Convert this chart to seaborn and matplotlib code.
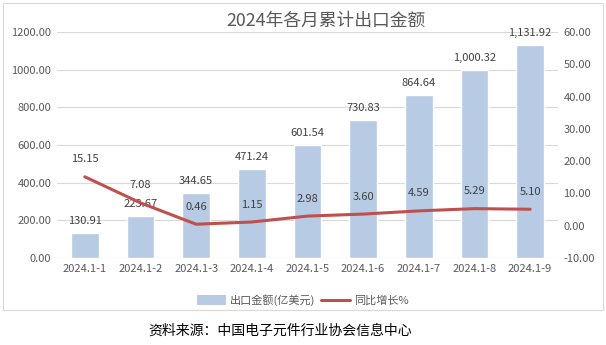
import numpy as np
import pandas as pd
import matplotlib
matplotlib.use("Agg")
import matplotlib.pyplot as plt
import seaborn as sns
from matplotlib.patches import Rectangle
from matplotlib.lines import Line2D
from matplotlib.patches import Patch

categories = ["2024.1-1", "2024.1-2", "2024.1-3", "2024.1-4", "2024.1-5",
              "2024.1-6", "2024.1-7", "2024.1-8", "2024.1-9"]
export_value = [130.91, 223.67, 344.65, 471.24, 601.54, 730.83, 864.64, 1000.32, 1131.92]
yoy_growth = [15.15, 7.08, 0.46, 1.15, 2.98, 3.60, 4.59, 5.29, 5.10]
bar_label_text = ["130.91", "223.67", "344.65", "471.24", "601.54", "730.83", "864.64", "1,000.32", "1,131.92"]

sns.set_theme(style="white")
plt.rcParams['font.family'] = ['Noto Sans CJK SC', 'DejaVu Sans']

W, H = 606, 345
fig = plt.figure(figsize=(W / 100, H / 100), dpi=100)
ax = fig.add_axes([57 / W, 1 - 258 / H, (558 - 57) / W, (258 - 32) / H])

bar_color = "#b7cbe4"
line_color = "#c0504d"
grey = "#595959"

df = pd.DataFrame({"cat": categories, "val": export_value, "idx": np.arange(len(categories)), "yoy": yoy_growth})
sns.barplot(data=df, x="cat", y="val", color=bar_color, width=0.5, ax=ax, saturation=1)
ax.set_xlim(-0.5, len(categories) - 0.5)
ax.set_ylim(0, 1200)
ax.set_yticks(np.arange(0, 1201, 200))
ax.set_yticklabels([f"{v:.2f}" for v in np.arange(0, 1201, 200)], fontsize=8, color=grey)
ax.set_xticklabels(categories, fontsize=8, color=grey)
ax.set_xlabel("")
ax.set_ylabel("")
ax.grid(axis="y", color="#d9d9d9", linewidth=0.8)
ax.set_axisbelow(True)
for s in ax.spines.values():
    s.set_visible(False)
ax.tick_params(axis="both", length=0, pad=4)

ax2 = ax.twinx()
sns.lineplot(data=df, x="idx", y="yoy", color=line_color, linewidth=2.2, ax=ax2)
ax2.set_ylim(-10, 60)
ax2.set_yticks(np.arange(-10, 61, 10))
ax2.set_yticklabels([f"{v:.2f}" for v in np.arange(-10, 61, 10)], fontsize=8, color=grey)
ax2.set_ylabel("")
ax2.set_xlabel("")
for s in ax2.spines.values():
    s.set_visible(False)
ax2.tick_params(axis="both", length=0, pad=4)
ax2.grid(False)
ax.set_xlim(-0.5, len(categories) - 0.5)

for i, (v, t) in enumerate(zip(export_value, bar_label_text)):
    ax.annotate(t, (i, v), xytext=(0, 5), textcoords="offset points",
                ha="center", va="bottom", fontsize=8, color="#404040")
for i, g in enumerate(yoy_growth):
    ax2.annotate(f"{g:.2f}", (i, g), xytext=(0, 9), textcoords="offset points",
                 ha="center", va="bottom", fontsize=8, color="#404040")

fig.text(326 / W, 1 - 21 / H, "2024年各月累计出口金额", ha="center", va="center",
         fontsize=12.8, color=grey)

handles = [Patch(facecolor=bar_color, edgecolor="none"),
           Line2D([0], [0], color=line_color, linewidth=2.2)]
fig.legend(handles, ["出口金额(亿美元)", "同比增长%"], loc="center",
           bbox_to_anchor=(303 / W, 1 - 300 / H), ncol=2, frameon=False,
           fontsize=8, labelcolor=grey, handlelength=2.6, handleheight=0.9,
           columnspacing=0.5, handletextpad=0.4)

fig.patches.append(Rectangle((3 / W, 1 - 310 / H), 600 / W, 307 / H,
                             transform=fig.transFigure, fill=False,
                             edgecolor="#d9d9d9", linewidth=0.8))

fig.text(280 / W, 1 - 331 / H, "资料来源：中国电子元件行业协会信息中心", ha="center",
         va="center", fontsize=10, color="black")

fig.savefig("out.png", dpi=100)
